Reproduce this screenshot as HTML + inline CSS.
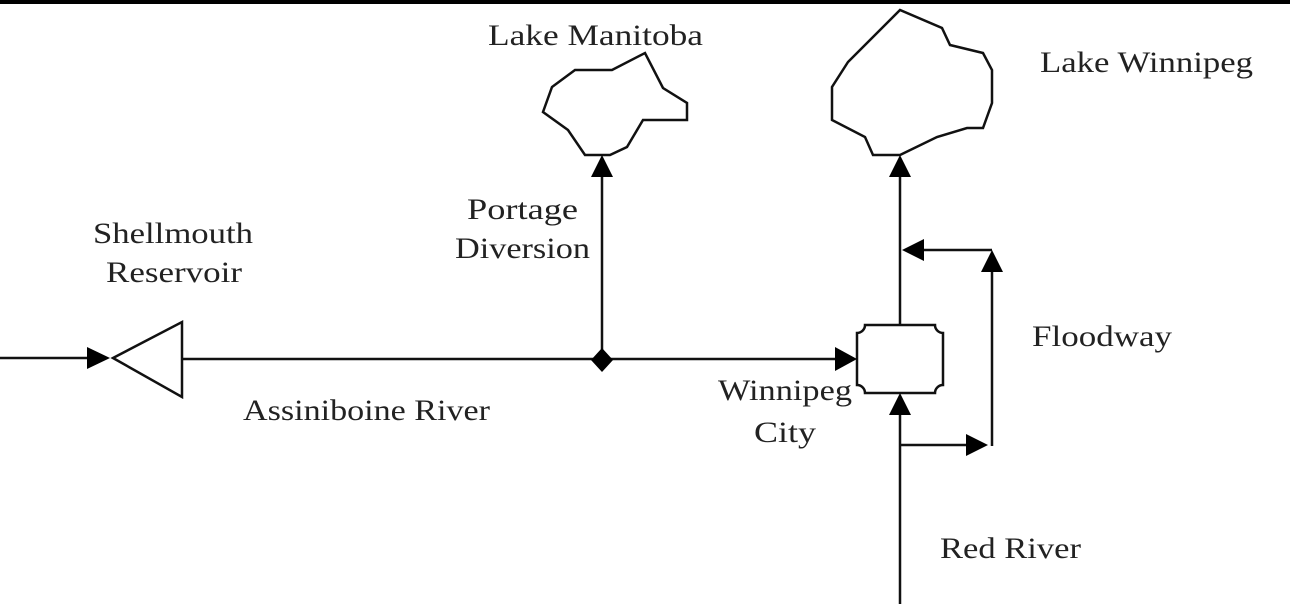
<!DOCTYPE html>
<html><head><style>html,body{margin:0;padding:0;background:#fff}svg{display:block}</style></head>
<body>
<svg width="1290" height="604" viewBox="0 0 1290 604" xmlns="http://www.w3.org/2000/svg">
<rect x="0" y="0" width="1290" height="4" fill="#000"/>
<g fill="none" stroke="#111" stroke-width="2.5" stroke-linejoin="miter">
<polygon points="585,155 610,155 627,147 643,120 687,120 687,103 663,88 645,53 612,70 575,70 552,87 543,112 568,130"/>
<polygon points="873,155 900,155 937,137 967,128 983,128 992,103 992,70 983,53 950,45 942,28 900,10 848,62 832,87 832,120 865,137"/>
<line x1="0" y1="358" x2="90" y2="358"/>
<polygon points="113,358 182,322 182,397"/>
<line x1="182" y1="359" x2="840" y2="359"/>
<line x1="602" y1="360" x2="602" y2="175"/>
<line x1="900" y1="325" x2="900" y2="175"/>
<line x1="900" y1="604" x2="900" y2="412"/>
<line x1="900" y1="445" x2="970" y2="445"/>
<line x1="992" y1="446" x2="992" y2="270"/>
<line x1="992" y1="250" x2="922" y2="250"/>
<path d="M865,325 H935 A8,8 0 0 0 943,333 V385 A8,8 0 0 0 935,393 H865 A8,8 0 0 0 857,385 V333 A8,8 0 0 0 865,325 Z"/>
</g>
<g fill="#000">
<polygon points="87,347 110,358 87,369"/>
<polygon points="591,177 602,155 613,177"/>
<polygon points="889,177 900,155 911,177"/>
<polygon points="835,347 857,359 835,371"/>
<polygon points="889,415 900,393 911,415"/>
<polygon points="966,434 988,445 966,456"/>
<polygon points="981,272 992,250 1003,272"/>
<polygon points="924,239 902,250 924,261"/>
<polygon points="602,348 613,360 602,372 591,360"/>
</g>
<g font-family="Liberation Serif, serif" font-size="30" fill="#222">
<text x="488" y="45" textLength="215" lengthAdjust="spacingAndGlyphs">Lake Manitoba</text>
<text x="1040" y="72" textLength="213" lengthAdjust="spacingAndGlyphs">Lake Winnipeg</text>
<text x="467" y="219" textLength="111" lengthAdjust="spacingAndGlyphs">Portage</text>
<text x="455" y="258" textLength="135" lengthAdjust="spacingAndGlyphs">Diversion</text>
<text x="93" y="243" textLength="160" lengthAdjust="spacingAndGlyphs">Shellmouth</text>
<text x="106" y="282" textLength="136" lengthAdjust="spacingAndGlyphs">Reservoir</text>
<text x="243" y="420" textLength="247" lengthAdjust="spacingAndGlyphs">Assiniboine River</text>
<text x="718" y="400" textLength="134" lengthAdjust="spacingAndGlyphs">Winnipeg</text>
<text x="754" y="442" textLength="62" lengthAdjust="spacingAndGlyphs">City</text>
<text x="1032" y="346" textLength="140" lengthAdjust="spacingAndGlyphs">Floodway</text>
<text x="940" y="558" textLength="141" lengthAdjust="spacingAndGlyphs">Red River</text>
</g>
</svg>
</body></html>
